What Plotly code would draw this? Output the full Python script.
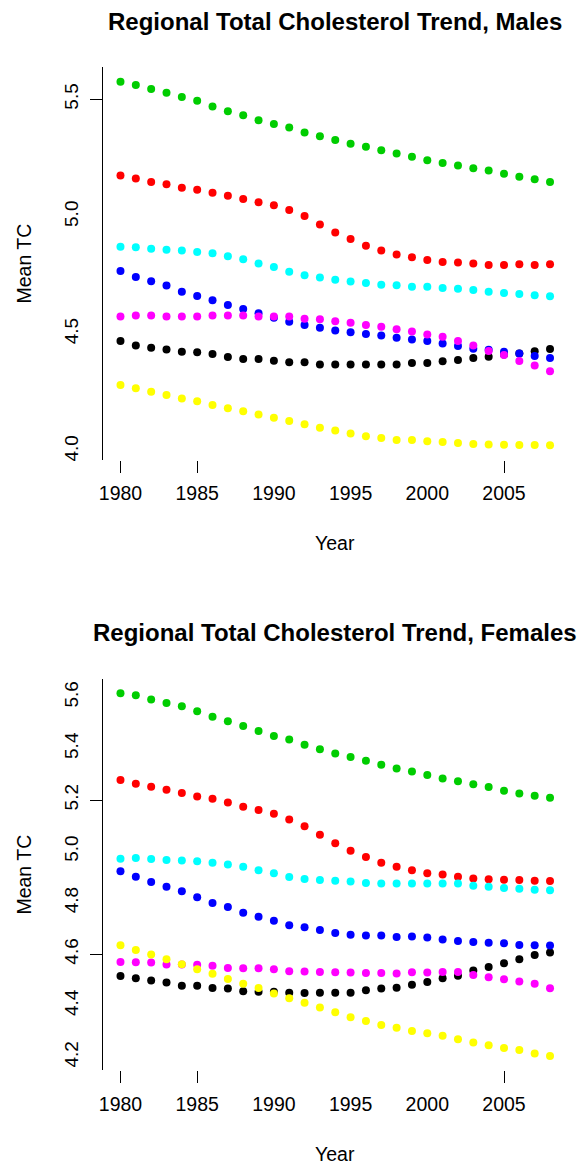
import plotly.graph_objects as go

years = list(range(1980, 2009))

# ---- Males (mean TC) ----
male_black = [4.470, 4.451, 4.441, 4.434, 4.424, 4.422, 4.414, 4.402, 4.393, 4.393,
              4.386, 4.379, 4.379, 4.370, 4.370, 4.370, 4.370, 4.370, 4.370, 4.376,
              4.376, 4.383, 4.389, 4.397, 4.403, 4.412, 4.417, 4.426, 4.436]
male_red = [5.175, 5.162, 5.148, 5.138, 5.123, 5.114, 5.102, 5.089, 5.075, 5.061,
            5.048, 5.028, 5.003, 4.966, 4.932, 4.905, 4.876, 4.856, 4.839, 4.827,
            4.815, 4.807, 4.804, 4.800, 4.794, 4.794, 4.797, 4.794, 4.797]
male_green = [5.575, 5.561, 5.544, 5.528, 5.510, 5.494, 5.469, 5.449, 5.432, 5.411,
              5.395, 5.380, 5.359, 5.342, 5.327, 5.310, 5.298, 5.283, 5.269, 5.255,
              5.240, 5.229, 5.218, 5.206, 5.196, 5.183, 5.170, 5.159, 5.148]
male_blue = [4.768, 4.743, 4.724, 4.706, 4.680, 4.662, 4.643, 4.623, 4.606, 4.588,
             4.569, 4.552, 4.538, 4.526, 4.515, 4.507, 4.500, 4.493, 4.484, 4.476,
             4.470, 4.459, 4.449, 4.437, 4.432, 4.424, 4.417, 4.406, 4.397]
male_cyan = [4.872, 4.869, 4.863, 4.859, 4.856, 4.849, 4.844, 4.831, 4.818, 4.800,
             4.785, 4.765, 4.750, 4.740, 4.731, 4.723, 4.717, 4.710, 4.707, 4.701,
             4.701, 4.696, 4.692, 4.687, 4.680, 4.674, 4.670, 4.665, 4.660]
male_magenta = [4.574, 4.578, 4.578, 4.574, 4.574, 4.574, 4.578, 4.578, 4.578, 4.574,
                4.574, 4.574, 4.565, 4.562, 4.554, 4.548, 4.538, 4.530, 4.520, 4.510,
                4.498, 4.488, 4.470, 4.451, 4.427, 4.410, 4.385, 4.365, 4.341]
male_yellow = [4.282, 4.268, 4.254, 4.240, 4.225, 4.213, 4.197, 4.183, 4.170, 4.157,
               4.143, 4.129, 4.115, 4.100, 4.088, 4.076, 4.064, 4.056, 4.048, 4.048,
               4.042, 4.039, 4.035, 4.031, 4.029, 4.028, 4.027, 4.027, 4.025]

# ---- Females (mean TC) ----
female_black = [4.516, 4.507, 4.498, 4.490, 4.478, 4.478, 4.469, 4.467, 4.456, 4.454,
                4.454, 4.451, 4.450, 4.451, 4.451, 4.451, 4.460, 4.467, 4.470, 4.482,
                4.492, 4.507, 4.517, 4.537, 4.551, 4.565, 4.581, 4.597, 4.607]
female_red = [5.278, 5.263, 5.252, 5.240, 5.227, 5.214, 5.205, 5.190, 5.174, 5.161,
              5.147, 5.124, 5.098, 5.065, 5.032, 5.003, 4.978, 4.956, 4.941, 4.927,
              4.915, 4.910, 4.902, 4.895, 4.892, 4.890, 4.889, 4.886, 4.885]
female_green = [5.615, 5.607, 5.591, 5.577, 5.565, 5.545, 5.524, 5.506, 5.488, 5.468,
                5.449, 5.435, 5.415, 5.397, 5.381, 5.367, 5.353, 5.337, 5.323, 5.311,
                5.297, 5.284, 5.273, 5.261, 5.251, 5.236, 5.225, 5.217, 5.209]
female_blue = [4.923, 4.902, 4.881, 4.863, 4.845, 4.822, 4.800, 4.784, 4.762, 4.746,
               4.731, 4.713, 4.705, 4.695, 4.683, 4.676, 4.673, 4.673, 4.667, 4.669,
               4.665, 4.658, 4.652, 4.648, 4.645, 4.643, 4.636, 4.635, 4.634]
female_cyan = [4.972, 4.975, 4.971, 4.967, 4.965, 4.962, 4.956, 4.949, 4.941, 4.927,
               4.915, 4.901, 4.893, 4.889, 4.886, 4.883, 4.877, 4.875, 4.875, 4.875,
               4.875, 4.875, 4.875, 4.867, 4.863, 4.858, 4.855, 4.851, 4.849]
female_magenta = [4.570, 4.569, 4.568, 4.560, 4.560, 4.559, 4.556, 4.547, 4.546, 4.546,
                  4.542, 4.534, 4.533, 4.531, 4.530, 4.529, 4.527, 4.527, 4.525, 4.530,
                  4.529, 4.531, 4.531, 4.520, 4.511, 4.503, 4.494, 4.486, 4.468]
female_yellow = [4.635, 4.617, 4.599, 4.581, 4.561, 4.542, 4.524, 4.504, 4.486, 4.469,
                 4.448, 4.429, 4.412, 4.393, 4.375, 4.355, 4.341, 4.325, 4.314, 4.302,
                 4.293, 4.283, 4.270, 4.257, 4.246, 4.236, 4.228, 4.214, 4.205]

colors = ["black", "#FF0000", "#00CD00", "#0000FF", "#00FFFF", "#FF00FF", "#FFFF00"]
male_series = [male_black, male_red, male_green, male_blue, male_cyan, male_magenta, male_yellow]
female_series = [female_black, female_red, female_green, female_blue, female_cyan,
                 female_magenta, female_yellow]

x_ticks = [1980, 1985, 1990, 1995, 2000, 2005]
x_visible_ticks = [1980, 1985, 2005]
male_y_ticks = [4.0, 4.5, 5.0, 5.5]
male_y_visible_ticks = [5.5]
female_y_ticks = [4.2, 4.4, 4.6, 4.8, 5.0, 5.2, 5.4, 5.6]
female_y_visible_ticks = [5.2, 4.6]

W, H = 588, 1169
FONT = "Liberation Sans, Arial, sans-serif"

fig = go.Figure()
for ys, c in zip(male_series, colors):
    fig.add_trace(go.Scatter(x=years, y=ys, mode="markers", xaxis="x", yaxis="y",
                             marker=dict(color=c, size=8, line=dict(width=0)),
                             showlegend=False))
for ys, c in zip(female_series, colors):
    fig.add_trace(go.Scatter(x=years, y=ys, mode="markers", xaxis="x2", yaxis="y2",
                             marker=dict(color=c, size=8, line=dict(width=0)),
                             showlegend=False))

x_dom = [103.3 / W, 567.2 / W]
m_dom = [1 - 459.9 / H, 1 - 67.2 / H]
f_dom = [1 - 1070.4 / H, 1 - 678.8 / H]


def xaxis_cfg(anchor):
    return dict(domain=x_dom, range=[1978.88, 2009.12], anchor=anchor,
                tickmode="array", tickvals=x_ticks, ticks="inside", ticklen=1,
                tickcolor="rgba(0,0,0,0)", showline=False, showgrid=False,
                zeroline=False, automargin=False, ticklabelstandoff=20,
                tickfont=dict(family=FONT, size=19.5, color="black"),
                minor=dict(tickmode="array", tickvals=x_visible_ticks, ticks="outside",
                           ticklen=12, tickwidth=1, tickcolor="black", showgrid=False))


def yaxis_cfg(anchor, dom, rng, tv, vis):
    return dict(domain=dom, range=rng, anchor=anchor,
                tickmode="array", tickvals=tv, tickformat=".1f", tickangle=-90,
                ticks="inside", ticklen=1, tickcolor="rgba(0,0,0,0)",
                showline=True, linecolor="black", linewidth=1, showgrid=False,
                zeroline=False, automargin=False, ticklabelstandoff=17,
                tickfont=dict(family=FONT, size=19, color="black"),
                minor=dict(tickmode="array", tickvals=vis, ticks="outside",
                           ticklen=12, tickwidth=1, tickcolor="black", showgrid=False))


cx = (x_dom[0] + x_dom[1]) / 2
annotations = [
    dict(text="<b>Regional Total Cholesterol Trend, Males</b>", x=cx, y=1 - 21.5 / H),
    dict(text="<b>Regional Total Cholesterol Trend, Females</b>", x=cx, y=1 - 632.5 / H),
]
for a in annotations:
    a.update(xref="paper", yref="paper", xanchor="center", yanchor="middle",
             showarrow=False, font=dict(family=FONT, size=24, color="black"))
for yy in [543.3, 1154.0]:
    annotations.append(dict(text="Year", x=cx, y=1 - yy / H, xref="paper", yref="paper",
                            xanchor="center", yanchor="middle", showarrow=False,
                            font=dict(family=FONT, size=19.5, color="black")))
for dom in [m_dom, f_dom]:
    annotations.append(dict(text="Mean TC", x=24 / W, y=(dom[0] + dom[1]) / 2,
                            xref="paper", yref="paper", xanchor="center",
                            yanchor="middle", textangle=-90, showarrow=False,
                            font=dict(family=FONT, size=19.5, color="black")))

fig.update_layout(
    width=W, height=H, autosize=False,
    margin=dict(l=0, r=0, t=0, b=0, pad=0),
    paper_bgcolor="white", plot_bgcolor="white",
    showlegend=False,
    xaxis=xaxis_cfg("y"),
    yaxis=yaxis_cfg("x", m_dom, [3.963, 5.6368], male_y_ticks, male_y_visible_ticks),
    xaxis2=xaxis_cfg("y2"),
    yaxis2=yaxis_cfg("x2", f_dom, [4.1486, 5.6714], female_y_ticks, female_y_visible_ticks),
    annotations=annotations,
)

fig.write_html("out.html")
